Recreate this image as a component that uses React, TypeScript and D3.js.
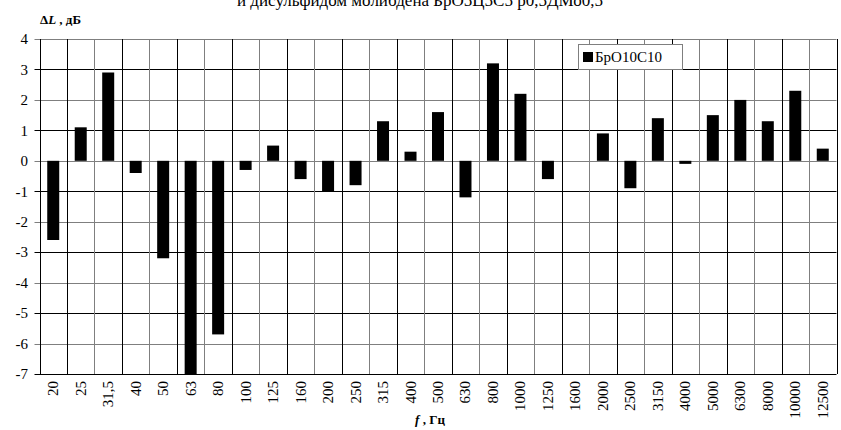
import { useEffect, useRef } from 'react';
import * as d3 from 'd3';

// third-octave band centres (Hz) and level difference (dB)
const freqLabels = [
  '20', '25', '31,5', '40', '50', '63', '80', '100', '125', '160', '200', '250', '315', '400',
  '500', '630', '800', '1000', '1250', '1600', '2000', '2500', '3150', '4000', '5000', '6300',
  '8000', '10000', '12500',
];
const deltaL = [
  -2.6, 1.1, 2.9, -0.4, -3.2, -7.0, -5.7, -0.3, 0.5, -0.6, -1.0, -0.8, 1.3, 0.3,
  1.6, -1.2, 3.2, 2.2, -0.6, 0, 0.9, -0.9, 1.4, -0.1, 1.5, 2.0,
  1.3, 2.3, 0.4,
];
const yTicks = [4, 3, 2, 1, 0, -1, -2, -3, -4, -5, -6, -7];
const seriesName = 'БрО10С10';
const titleText = 'и дисульфидом молибдена БрО5Ц5С5 р0,5ДМо0,5';

const W = 841;
const H = 430;
const FONT = 'Liberation Serif, DejaVu Serif, serif';

export default function App() {
  const svgRef = useRef<SVGSVGElement>(null);

  useEffect(() => {
    if (!svgRef.current) return;
    const svg = d3.select(svgRef.current);
    svg.selectAll('*').remove();

    const left = 39.5;
    const right = 836.5;
    const top = 39;
    const bottom = 374;

    const x = d3.scaleBand<string>().domain(freqLabels).range([left, right]).padding(0);
    const y = d3.scaleLinear().domain([-7, 4]).range([bottom, top]);
    const barW = 12;

    svg.append('rect').attr('width', W).attr('height', H).attr('fill', '#fff');

    const root = svg.append('g').attr('font-family', FONT);

    // title (cut off at the top in the original)
    root
      .append('text')
      .attr('x', 420)
      .attr('y', 6)
      .attr('text-anchor', 'middle')
      .attr('font-size', 17)
      .text(titleText);

    // horizontal gridlines
    root
      .append('g')
      .selectAll('line')
      .data(yTicks)
      .enter()
      .append('line')
      .attr('x1', left - 5)
      .attr('x2', right)
      .attr('y1', (d) => Math.round(y(d)) + 0.5)
      .attr('y2', (d) => Math.round(y(d)) + 0.5)
      .attr('stroke', (d) => (Math.abs(d) % 2 === 0 ? '#7f7f7f' : '#000'))
      .attr('stroke-width', 1);

    // vertical gridlines at band boundaries
    const bounds = d3.range(freqLabels.length + 1);
    root
      .append('g')
      .selectAll('line')
      .data(bounds)
      .enter()
      .append('line')
      .attr('x1', (k) => Math.round(left + k * x.bandwidth()) + 0.5)
      .attr('x2', (k) => Math.round(left + k * x.bandwidth()) + 0.5)
      .attr('y1', top)
      .attr('y2', bottom)
      .attr('stroke', (k) => (k % 2 === 1 || k === 0 ? '#000' : '#7f7f7f'))
      .attr('stroke-width', 1);

    // bars
    root
      .append('g')
      .selectAll('rect')
      .data(deltaL)
      .enter()
      .append('rect')
      .attr('x', (_d, i) => (x(freqLabels[i]) as number) + x.bandwidth() / 2 - barW / 2)
      .attr('width', barW)
      .attr('y', (d) => y(Math.max(0, d)))
      .attr('height', (d) => Math.abs(y(d) - y(0)))
      .attr('fill', '#000');

    // y tick labels
    root
      .append('g')
      .selectAll('text')
      .data(yTicks)
      .enter()
      .append('text')
      .attr('x', 28)
      .attr('y', (d) => y(d))
      .attr('dy', '0.35em')
      .attr('text-anchor', 'end')
      .attr('font-size', 15)
      .text((d) => String(d));

    // x tick labels, rotated
    root
      .append('g')
      .selectAll('text')
      .data(freqLabels)
      .enter()
      .append('text')
      .attr(
        'transform',
        (d) => `translate(${(x(d) as number) + x.bandwidth() / 2 + 5},${bottom + 7}) rotate(-90)`
      )
      .attr('text-anchor', 'end')
      .attr('font-size', 15)
      .text((d) => d);

    // y axis title
    const yt = root
      .append('text')
      .attr('x', 40)
      .attr('y', 24)
      .attr('font-size', 13)
      .attr('font-weight', 'bold');
    yt.append('tspan').text('Δ');
    yt.append('tspan').attr('font-style', 'italic').text('L');
    yt.append('tspan').text(' , дБ');

    // x axis title
    const xt = root
      .append('text')
      .attr('x', 430)
      .attr('y', 424)
      .attr('text-anchor', 'middle')
      .attr('font-size', 13)
      .attr('font-weight', 'bold');
    xt.append('tspan').attr('font-style', 'italic').text('f');
    xt.append('tspan').text(' , Гц');

    // legend
    const lg = root.append('g').attr('transform', 'translate(578,44)');
    lg.append('rect')
      .attr('x', 0.5)
      .attr('y', 0.5)
      .attr('width', 104)
      .attr('height', 25)
      .attr('fill', '#fff')
      .attr('stroke', '#7f7f7f');
    lg.append('rect').attr('x', 5).attr('y', 8).attr('width', 10).attr('height', 10).attr('fill', '#000');
    lg.append('text').attr('x', 17).attr('y', 18).attr('font-size', 15).text(seriesName);
  }, []);

  return (
    <svg
      ref={svgRef}
      width={W}
      height={H}
      style={{ position: 'absolute', left: 0, top: 0, display: 'block' }}
    />
  );
}
